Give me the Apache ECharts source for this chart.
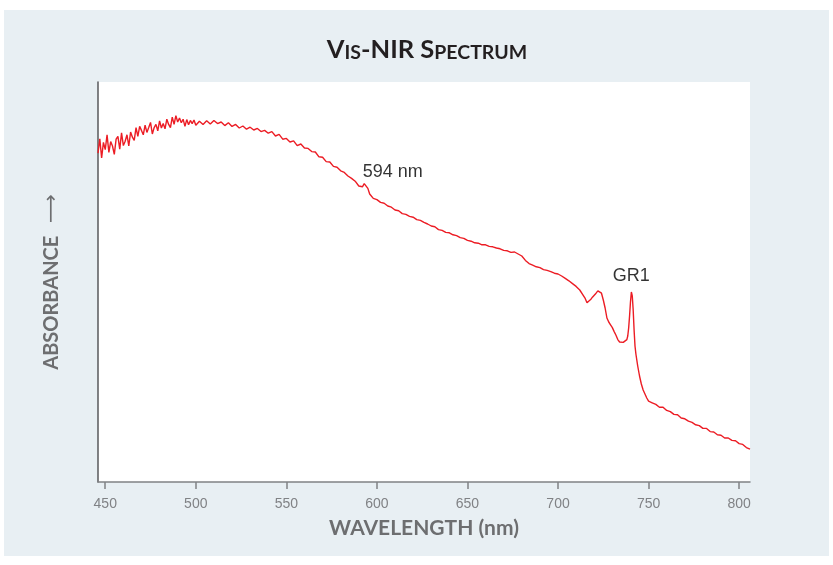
<!DOCTYPE html>
<html>
<head>
<meta charset="utf-8">
<script src="https://cdn.jsdelivr.net/npm/echarts@6/dist/echarts.min.js"></script>
<style>
  html, body { margin: 0; padding: 0; background: #fff; }
  #chart { width: 833px; height: 565px; }
</style>
</head>
<body>
<div id="chart"></div>
<script>
// wavelength (nm) and absorbance (arbitrary units, 0-100)
var wavelengths = [
  446, 447, 448, 449, 450, 451, 452, 453, 454, 455, 456, 457, 458, 459, 460,
  461, 462, 463, 464, 465, 466, 467, 468, 469, 470, 471, 472, 473, 474, 475,
  476, 477, 478, 479, 480, 481, 482, 483, 484, 485, 486, 487, 488, 489, 490,
  491, 492, 493, 494, 495, 496, 497, 498, 499, 500,
  502, 504, 506, 508, 510, 512, 514, 516, 518, 520, 522, 524, 526, 528, 530,
  532, 534, 536, 538, 540, 542, 544, 546, 548, 550, 552, 554, 556, 558, 560,
  562, 564, 566, 568, 570, 572, 574, 576, 578, 580, 582, 584, 586, 588, 590,
  591, 592, 593, 594, 595, 596, 598, 600,
  602, 604, 606, 608, 610, 612, 614, 616, 618, 620, 622, 624, 626, 628, 630,
  632, 634, 636, 638, 640, 642, 644, 646, 648, 650, 652, 654, 656, 658, 660,
  662, 664, 666, 668, 670, 672, 674, 676, 678, 680, 682, 684, 686, 688, 690,
  692, 694, 696, 698, 700, 702, 704, 706, 708, 710, 712, 713, 714, 715, 716,
  717, 718, 719, 720, 721, 722, 723, 724, 725, 726, 727, 728, 729, 730, 731,
  732, 733, 734, 735, 736, 737, 738, 738.5, 739, 739.5, 740, 740.5, 741, 741.5, 742,
  742.5, 743, 744, 745, 746, 747, 748, 749, 750, 752, 754, 756, 758, 760, 762,
  764, 766, 768, 770, 772, 774, 776, 778, 780, 782, 784, 786, 788, 790, 792,
  794, 796, 798, 800, 802, 804, 806
];
var absorbance = [
  82.2, 85.8, 81.0, 84.9, 83.1, 86.8, 82.4, 85.1, 84.0, 81.9, 85.7, 86.4, 83.2, 87.3, 84.1,
  85.2, 86.8, 84.0, 87.5, 86.2, 85.4, 88.6, 86.4, 88.9, 87.9, 86.8, 89.2, 87.4, 88.6, 89.9,
  87.0, 88.6, 89.4, 87.8, 90.3, 88.5, 89.6, 88.3, 90.7, 89.4, 88.6, 91.2, 89.4, 91.6, 90.0,
  91.0, 89.8, 90.7, 88.9, 90.6, 89.3, 90.4, 89.6, 90.5, 89.2,
  90.2, 89.4, 90.3, 89.5, 90.4, 89.6, 90.0, 89.1, 89.8, 88.9, 89.4, 88.5, 89.0, 88.2, 88.7,
  88.0, 88.4, 87.6, 87.9, 87.2, 87.6, 86.5, 86.9, 85.7, 85.9, 85.0, 85.3, 84.1, 84.5, 83.5,
  83.4, 82.6, 82.5, 81.3, 81.2, 80.1, 80.0, 78.9, 78.7, 77.8, 77.4, 76.5, 75.9, 75.2, 74.0,
  74.3, 73.8, 74.6, 74.9, 73.4, 72.0, 70.9, 70.6,
  69.9, 69.7, 69.0, 68.7, 68.0, 67.8, 67.1, 66.9, 66.4, 66.2, 65.6, 65.4, 64.9, 64.5, 64.0,
  63.8, 63.1, 62.9, 62.4, 62.3, 61.8, 61.6, 61.1, 60.9, 60.4, 60.2, 59.8, 59.7, 59.3, 59.3,
  58.9, 58.8, 58.5, 58.3, 57.9, 57.8, 57.4, 57.5, 57.0, 56.5, 55.4, 54.6, 54.2, 53.8, 53.6,
  53.1, 52.9, 52.6, 52.2, 52.0, 51.5, 50.9, 50.3, 49.6, 48.9, 48.0, 47.5, 46.6, 45.9, 44.8,
  45.0, 45.6, 46.2, 46.6, 47.2, 47.8, 48.0, 47.2, 45.5, 43.5, 41.0, 40.0, 39.3, 38.6, 37.6,
  36.7, 35.6, 35.0, 34.7, 34.9, 35.1, 35.6, 36.5, 38.5, 41.5, 45.0, 47.5, 46.5, 43.0, 38.0,
  34.0, 32.0, 29.0, 26.5, 24.5, 23.0, 22.0, 21.0, 20.2, 19.8, 19.4, 18.7, 18.7, 17.9, 17.6,
  16.9, 16.8, 16.0, 15.8, 15.2, 14.9, 14.3, 14.1, 13.4, 13.4, 12.6, 12.5, 11.8, 11.7, 11.0,
  11.0, 10.4, 10.3, 9.6, 9.4, 8.6, 8.2
];
var xTicks = [450, 500, 550, 600, 650, 700, 750, 800];
var annotations = [
  [608.8, 77.5, '594 nm'],
  [740.5, 51.5, 'GR1']
];

var series = [];
for (var i = 0; i < wavelengths.length; i++) {
  series.push([wavelengths[i], absorbance[i]]);
}

var chart = echarts.init(document.getElementById('chart'));
chart.setOption({
  animation: false,
  backgroundColor: '#fff',
  graphic: [{
    type: 'rect',
    z: -10,
    silent: true,
    shape: { x: 4, y: 10, width: 825, height: 546 },
    style: { fill: '#e8eff3' }
  }],
  title: {
    left: 422,
    textAlign: 'center',
    top: 32,
    text: '{b|V}{s|IS}{b|-NIR S}{s|PECTRUM}',
    textStyle: {
      rich: {
        b: { fontFamily: 'Lato', fontWeight: 'bold', fontSize: 25.5, color: '#231f20', verticalAlign: 'bottom' },
        s: { fontFamily: 'Lato', fontWeight: 'bold', fontSize: 19.5, color: '#231f20', verticalAlign: 'bottom' }
      }
    }
  },
  grid: {
    left: 98, top: 82, right: 83, bottom: 83,
    show: true, backgroundColor: '#fff', borderWidth: 0
  },
  xAxis: {
    type: 'value',
    min: 446,
    max: 806,
    name: 'WAVELENGTH (nm)',
    nameLocation: 'middle',
    nameGap: 36,
    nameTextStyle: { fontFamily: 'Lato', fontWeight: 'bold', fontSize: 21, color: '#6d6e70' },
    axisLine: { show: true, lineStyle: { color: '#808285', width: 1.5 } },
    axisTick: { show: true, length: 7, customValues: xTicks, lineStyle: { color: '#808285', width: 1.5 } },
    axisLabel: {
      customValues: xTicks, margin: 15,
      fontFamily: 'Liberation Sans', fontSize: 14, color: '#808285'
    },
    splitLine: { show: false }
  },
  yAxis: {
    type: 'value',
    min: 0,
    max: 100,
    name: '{t|ABSORBANCE}{a|  ⟶}',
    nameLocation: 'middle',
    nameGap: 36,
    nameTextStyle: {
      rich: {
        t: { fontFamily: 'Lato', fontWeight: 'bold', fontSize: 20, color: '#6d6e70' },
        a: { fontFamily: 'DejaVu Sans', fontSize: 20, color: '#6d6e70' }
      }
    },
    axisLine: { show: true, lineStyle: { color: '#58595b', width: 1.5 } },
    axisTick: { show: false },
    axisLabel: { show: false },
    splitLine: { show: false }
  },
  series: [{
    type: 'line',
    data: series,
    showSymbol: false,
    symbol: 'none',
    lineStyle: { color: '#ec1c24', width: 1.4 }
  }, {
    type: 'scatter',
    data: annotations,
    symbolSize: 1,
    itemStyle: { color: 'rgba(0,0,0,0)' },
    label: {
      show: true,
      position: 'inside',
      formatter: function (p) { return p.data[2]; },
      fontFamily: 'Liberation Sans',
      fontSize: 18,
      color: '#000',
      textBorderWidth: 0
    }
  }]
});
</script>
</body>
</html>
